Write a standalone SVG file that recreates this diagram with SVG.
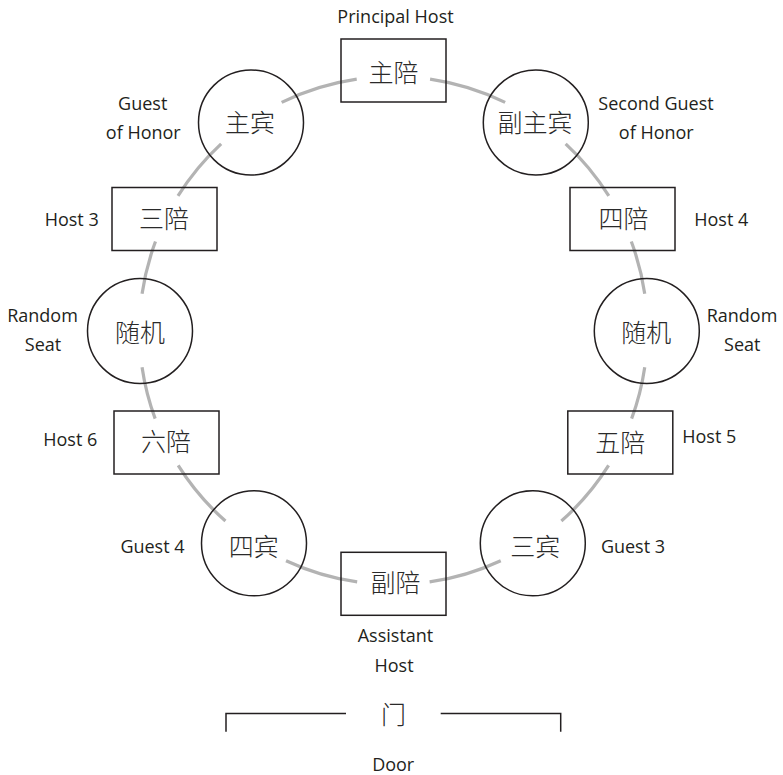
<svg xmlns="http://www.w3.org/2000/svg" width="783" height="775" viewBox="0 0 783 775">
<style>
.ring{fill:none;stroke:#b3b3b3;stroke-width:3.2;stroke-linecap:butt}
.box,.seat{fill:none;stroke:#231f20;stroke-width:1.5}
.zh{font-family:"Noto Sans CJK SC","Noto Sans CJK JP",sans-serif;font-size:25px;font-weight:300;fill:#2a2a2a;text-anchor:middle}
.en{font-family:"Open Sans","Noto Sans",sans-serif;font-size:18px;fill:#231f20;text-anchor:middle}
.door{fill:none;stroke:#231f20;stroke-width:1.5}
</style>
<rect width="783" height="775" fill="#ffffff"/>
<g id="connectors">
<path class="ring" d="M430.07 79.16 A254 254 0 0 1 505.14 102.40"/>
<path class="ring" d="M565.65 143.83 A254 254 0 0 1 608.80 195.90"/>
<path class="ring" d="M631.31 241.55 A254 254 0 0 1 644.74 293.83"/>
<path class="ring" d="M644.74 367.17 A254 254 0 0 1 631.62 418.62"/>
<path class="ring" d="M608.61 465.41 A254 254 0 0 1 561.37 521.03"/>
<path class="ring" d="M500.75 560.70 A254 254 0 0 1 429.63 581.90"/>
<path class="ring" d="M357.17 581.90 A254 254 0 0 1 286.05 560.70"/>
<path class="ring" d="M225.43 521.03 A254 254 0 0 1 178.19 465.41"/>
<path class="ring" d="M155.18 418.62 A254 254 0 0 1 142.06 367.17"/>
<path class="ring" d="M142.06 293.83 A254 254 0 0 1 155.49 241.55"/>
<path class="ring" d="M178.00 195.90 A254 254 0 0 1 221.15 143.83"/>
<path class="ring" d="M281.66 102.40 A254 254 0 0 1 356.73 79.16"/>
</g>
<g id="principal-host">
<rect class="box" x="341" y="39" width="105" height="63"/>
<text class="zh" x="393.5" y="82">主陪</text>
<text class="en" x="395.5" y="23">Principal Host</text>
</g>
<g id="guest-of-honor">
<circle class="seat" cx="251" cy="122.5" r="52.5"/>
<text class="zh" x="250" y="132.2">主宾</text>
<text class="en" x="142.7" y="110">Guest</text>
<text class="en" x="143.3" y="139">of Honor</text>
</g>
<g id="second-guest-of-honor">
<circle class="seat" cx="535.8" cy="122.5" r="52.5"/>
<text class="zh" x="535" y="132.2">副主宾</text>
<text class="en" x="656" y="110">Second Guest</text>
<text class="en" x="656.3" y="138.5">of Honor</text>
</g>
<g id="host-3">
<rect class="box" x="112" y="187.5" width="105" height="63"/>
<text class="zh" x="164" y="227.8">三陪</text>
<text class="en" x="71.7" y="226">Host 3</text>
</g>
<g id="host-4">
<rect class="box" x="570" y="187.5" width="105" height="63"/>
<text class="zh" x="623.5" y="228">四陪</text>
<text class="en" x="721.3" y="226">Host 4</text>
</g>
<g id="random-seat-left">
<circle class="seat" cx="140" cy="331" r="52.5"/>
<text class="zh" x="140" y="341.8">随机</text>
<text class="en" x="42.5" y="321.7">Random</text>
<text class="en" x="43" y="350.7">Seat</text>
</g>
<g id="random-seat-right">
<circle class="seat" cx="646.8" cy="331" r="52.5"/>
<text class="zh" x="646.2" y="341.8">随机</text>
<text class="en" x="742" y="321.7">Random</text>
<text class="en" x="742.3" y="350.7">Seat</text>
</g>
<g id="host-6">
<rect class="box" x="114" y="411" width="105" height="63"/>
<text class="zh" x="166" y="451.2">六陪</text>
<text class="en" x="70.3" y="446">Host 6</text>
</g>
<g id="host-5">
<rect class="box" x="567.8" y="411" width="105" height="63"/>
<text class="zh" x="620.3" y="451.5">五陪</text>
<text class="en" x="709.3" y="442.7">Host 5</text>
</g>
<g id="guest-4">
<circle class="seat" cx="254" cy="543.3" r="52.5"/>
<text class="zh" x="253.7" y="556.2">四宾</text>
<text class="en" x="152.5" y="553.3">Guest 4</text>
</g>
<g id="guest-3">
<circle class="seat" cx="532.8" cy="543.3" r="52.5"/>
<text class="zh" x="535.2" y="556.2">三宾</text>
<text class="en" x="633" y="553">Guest 3</text>
</g>
<g id="assistant-host">
<rect class="box" x="341" y="552.3" width="105" height="63"/>
<text class="zh" x="395.5" y="591.5">副陪</text>
<text class="en" x="395.5" y="641.7">Assistant</text>
<text class="en" x="394" y="671.7">Host</text>
</g>
<g id="door">
<path class="door" d="M226 731.7 V713.5 H346 M440.7 713.5 H560.7 V731.7"/>
<text class="zh" x="393.5" y="724">门</text>
<text class="en" x="393.2" y="771">Door</text>
</g>
</svg>
